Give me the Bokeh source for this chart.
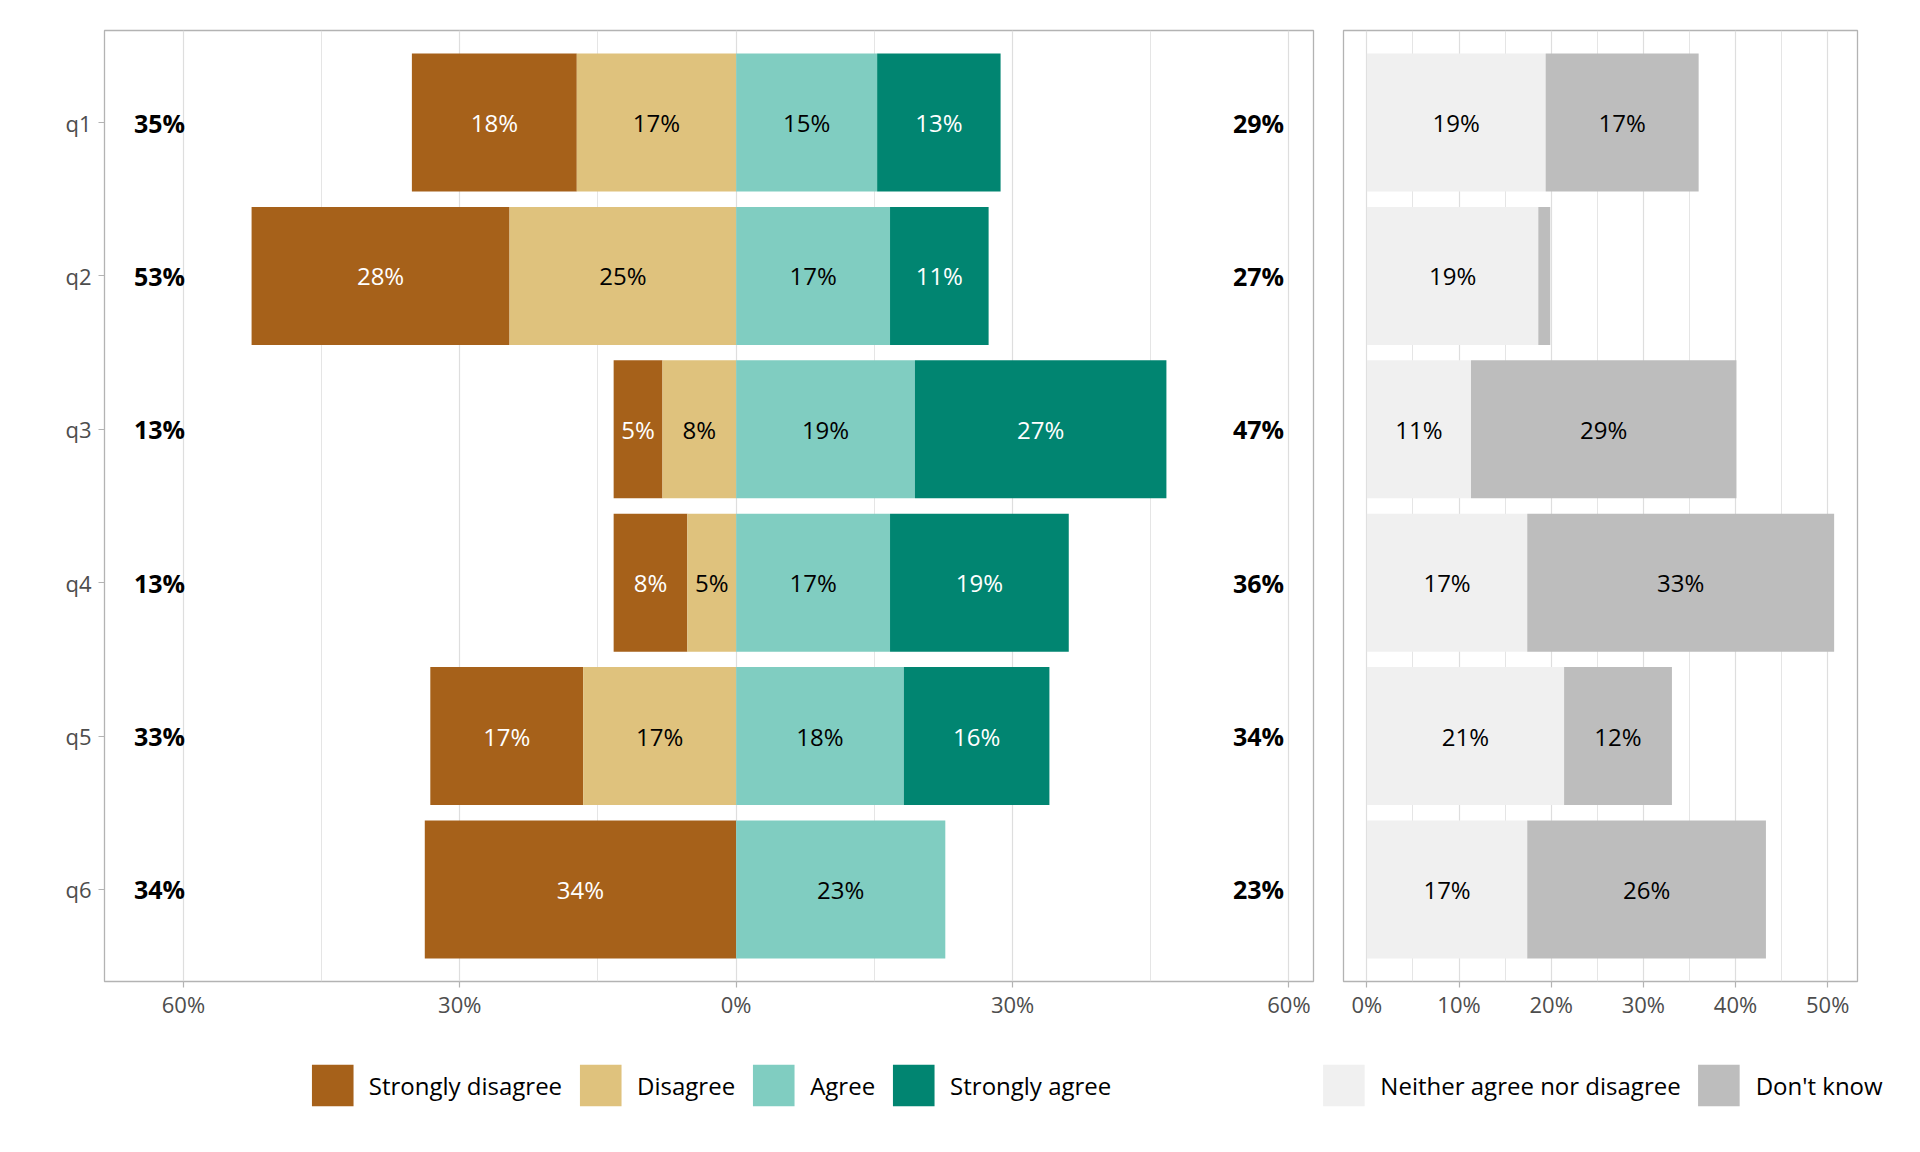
import numpy as np
from bokeh.plotting import figure
from bokeh.models import Range1d, FixedTicker, ColumnDataSource, Legend, LegendItem
from bokeh.layouts import row, column
from bokeh.core.properties import value
from bokeh.embed import file_html
from bokeh.resources import INLINE

# ---------------- data ----------------
questions = ["q1", "q2", "q3", "q4", "q5", "q6"]
strongly_disagree = [17.9, 28.0, 5.3, 8.0, 16.6, 33.8]
disagree = [17.3, 24.6, 8.0, 5.3, 16.6, 0.0]
agree = [15.3, 16.7, 19.4, 16.7, 18.2, 22.7]
strongly_agree = [13.4, 10.7, 27.3, 19.4, 15.8, 0.0]
neutral = [19.4, 18.6, 11.3, 17.4, 21.4, 17.4]
dont_know = [16.6, 1.3, 28.8, 33.3, 11.7, 25.9]

left_ticks = [-60, -30, 0, 30, 60]
left_minor = [-45, -15, 15, 45]
right_ticks = [0, 10, 20, 30, 40, 50]
right_minor = [5, 15, 25, 35, 45]

left_names = ["Strongly disagree", "Disagree", "Agree", "Strongly agree"]
right_names = ["Neither agree nor disagree", "Don't know"]

C_SD, C_D, C_A, C_SA = "#A6611A", "#DFC27D", "#80CDC1", "#018571"
C_N, C_DK = "#F0F0F0", "#BDBDBD"
FONT = "Open Sans"
GRID = "#DEDEDE"
BORDER = "#B3B3B3"
TICKTXT = "#4D4D4D"

sd = np.array(strongly_disagree)
d = np.array(disagree)
a = np.array(agree)
sa = np.array(strongly_agree)
nt = np.array(neutral)
dk = np.array(dont_know)
ypos = np.arange(1, len(questions) + 1)


def lab(v):
    return [f"{int(round(x))}%" if x >= 2 else "" for x in v]


left_tot = sd + d
right_tot = a + sa
left_pos = -left_tot.max() - 10
right_pos = right_tot.max() + 10
span = right_pos - left_pos
x0, x1 = left_pos - 0.05 * span, right_pos + 0.05 * span

rmax = (nt + dk).max()
r0, r1 = -0.05 * rmax, rmax * 1.05

h = 0.9
src = ColumnDataSource(dict(
    y=ypos,
    sd_l=-(sd + d), sd_r=-d,
    d_l=-d, d_r=np.zeros_like(d),
    a_l=np.zeros_like(a), a_r=a,
    sa_l=a, sa_r=a + sa,
))
src2 = ColumnDataSource(dict(y=ypos, n_l=np.zeros_like(nt), n_r=nt, k_l=nt, k_r=nt + dk))

left_series = [("sd_l", "sd_r", C_SD), ("d_l", "d_r", C_D), ("a_l", "a_r", C_A), ("sa_l", "sa_r", C_SA)]
right_series = [("n_l", "n_r", C_N), ("k_l", "k_r", C_DK)]


def style(p, ticks, minor, labels):
    p.background_fill_color = "white"
    p.border_fill_color = "white"
    p.outline_line_color = BORDER
    p.outline_line_width = 1.3
    p.xaxis.ticker = FixedTicker(ticks=ticks, minor_ticks=minor)
    p.xaxis.major_label_overrides = labels
    p.xgrid.ticker = FixedTicker(ticks=ticks, minor_ticks=minor)
    p.xgrid.grid_line_color = GRID
    p.xgrid.grid_line_width = 1.2
    p.xgrid.minor_grid_line_color = GRID
    p.xgrid.minor_grid_line_width = 0.8
    p.ygrid.visible = False
    for ax in p.axis:
        ax.axis_line_color = None
        ax.major_tick_line_color = BORDER
        ax.major_tick_line_width = 1.2
        ax.major_tick_out = 6
        ax.major_tick_in = 0
        ax.minor_tick_line_color = None
        ax.major_label_text_font = FONT
        ax.major_label_text_font_size = "22px"
        ax.major_label_text_color = TICKTXT
        ax.major_label_standoff = 7
    p.xaxis.major_label_standoff = 1


def legend_fig(width, bl, br, names, series, source):
    # legend-only strip: its bars are muted to full transparency and lie outside the view,
    # so only the legend keys are seen
    f = figure(width=width, height=100, x_range=Range1d(1e5, 1e5 + 1), y_range=Range1d(-1e5 - 1, -1e5),
               output_backend="svg", toolbar_location=None,
               x_axis_location=None, y_axis_location=None,
               min_border_left=bl, min_border_right=br, min_border_top=0, min_border_bottom=0)
    f.grid.visible = False
    f.outline_line_color = None
    f.background_fill_color = "white"
    f.border_fill_color = "white"
    items = []
    for n, (lc, rc, c) in zip(names, series):
        r = f.hbar(y="y", left=lc, right=rc, height=h, source=source, fill_color=c, line_color=None,
                   muted_alpha=0)
        r.muted = True
        items.append(LegendItem(label=n, renderers=[r]))
    lg = Legend(items=items, orientation="horizontal", location="center",
                glyph_width=52, glyph_height=52, label_standoff=11, spacing=12,
                padding=0, margin=0, border_line_color=None, background_fill_alpha=0,
                label_text_font=FONT, label_text_font_size="24px", label_text_color="black")
    f.add_layout(lg)
    return f


# ---------------- left panel ----------------
p1 = figure(frame_width=1209, frame_height=951, x_range=Range1d(x0, x1), y_range=Range1d(6.6, 0.4),
            output_backend="svg", toolbar_location=None,
            min_border_left=104, min_border_right=15, min_border_top=30, min_border_bottom=54)
style(p1, left_ticks, left_minor, {t: f"{abs(t)}%" for t in left_ticks})
p1.yaxis.ticker = FixedTicker(ticks=list(ypos))
p1.yaxis.major_label_overrides = {int(y): q for y, q in zip(ypos, questions)}

for lc, rc, c in left_series:
    p1.hbar(y="y", left=lc, right=rc, height=h, source=src, fill_color=c, line_color=None)

lx = np.concatenate([-(d + sd / 2), -d / 2, a / 2, a + sa / 2])
ly = np.concatenate([ypos] * 4)
ltxt = lab(sd) + lab(d) + lab(a) + lab(sa)
lcol = ["white"] * 6 + ["black"] * 6 + ["black"] * 6 + ["white"] * 6
p1.text(x=lx, y=ly, text=ltxt, text_color=lcol, text_align="center", text_baseline="middle",
        text_font=value(FONT), text_font_size="24px")

tx = np.concatenate([np.full(6, left_pos), np.full(6, right_pos)])
ttxt = lab(left_tot) + lab(right_tot)
p1.text(x=tx, y=np.concatenate([ypos, ypos]), text=ttxt, text_color="black", text_align="center",
        text_baseline="middle", text_font=value(FONT), text_font_size="25px", text_font_style="bold")

# ---------------- right panel ----------------
p2 = figure(frame_width=514, frame_height=951, x_range=Range1d(r0, r1), y_range=Range1d(6.6, 0.4),
            output_backend="svg", toolbar_location=None, y_axis_location=None,
            min_border_left=15, min_border_right=63, min_border_top=30, min_border_bottom=54)
style(p2, right_ticks, right_minor, {t: f"{t}%" for t in right_ticks})

for lc, rc, c in right_series:
    p2.hbar(y="y", left=lc, right=rc, height=h, source=src2, fill_color=c, line_color=None)
p2.text(x=np.concatenate([nt / 2, nt + dk / 2]), y=np.concatenate([ypos, ypos]),
        text=lab(nt) + lab(dk), text_color="black", text_align="center", text_baseline="middle",
        text_font=value(FONT), text_font_size="24px")

# ---------------- legends ----------------
l1 = legend_fig(1310, 118, 11, left_names, left_series, src)
l2 = legend_fig(610, 0, 30, right_names, right_series, src2)

layout = column(row(p1, p2), row(l1, l2))
open("out.html", "w").write(file_html(layout, INLINE))
